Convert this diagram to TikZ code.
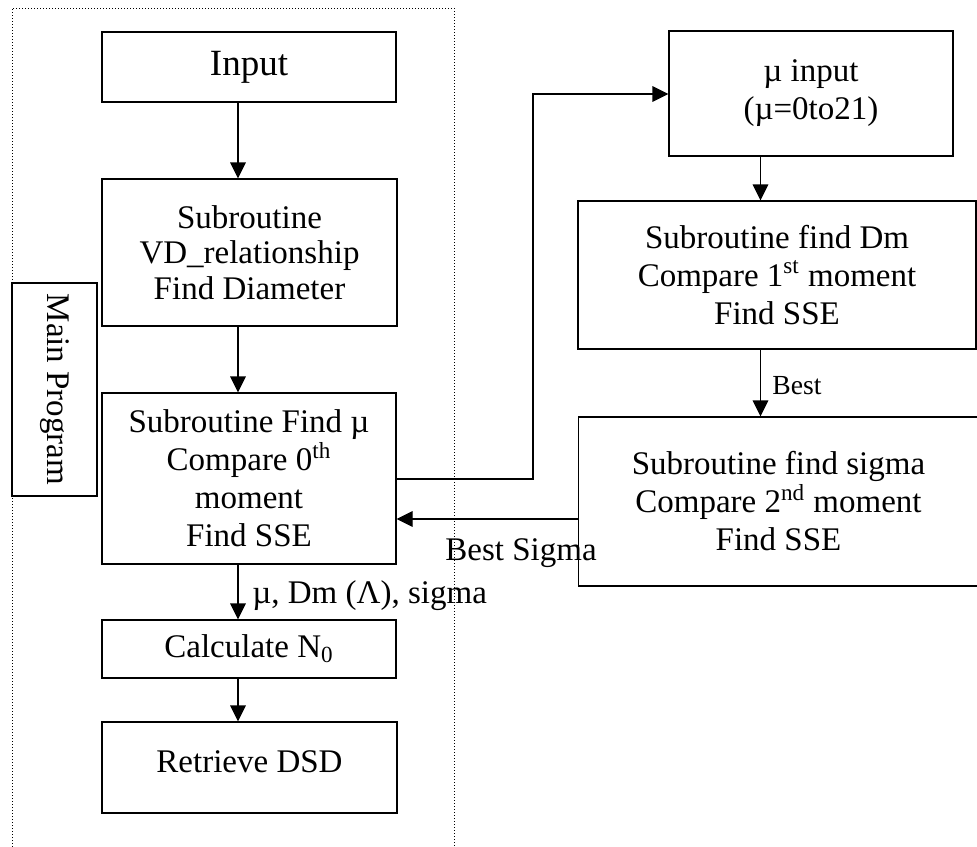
\documentclass[tikz,border=0pt]{standalone}
\usepackage{fontspec}
\setmainfont{Liberation Serif}
\usetikzlibrary{arrows.meta}
\begin{document}
\begin{tikzpicture}[x=0.5pt,y=-0.5pt,
  box/.style={draw, line width=0.65pt, fill=white, align=center, inner sep=0pt,
    font=\fontsize{16.5}{19}\selectfont},
  arr/.style={-{Triangle[length=8pt,width=7.8pt]}, line width=0.65pt},
  lbl/.style={inner sep=0pt, font=\fontsize{16.5}{19}\selectfont},
  frame/.style={densely dotted, line width=0.5pt}]
\useasboundingbox (0,0) rectangle (977,846);
% dotted frame of the main program
\draw[frame] (12,850) -- (12,8) -- (454,8) -- (454,850);
% left column
\node[box, minimum width=147pt, minimum height=35pt, font=\fontsize{18.5}{20}\selectfont] (input) at (249,67) {Input};
\node[box, minimum width=147.5pt, minimum height=73.5pt, font=\fontsize{16.5}{17.75}\selectfont] (vd) at (249.5,252.5) {Subroutine\\VD\_relationship\\Find Diameter};
\node[box, minimum width=147pt, minimum height=85.5pt] (findmu) at (249,478.5) {Subroutine Find µ\\Compare 0\textsuperscript{th}\\moment\\Find SSE};
\node[box, minimum width=147pt, minimum height=29pt] (calc) at (249,649) {Calculate N\textsubscript{0}};
\node[box, minimum width=147.5pt, minimum height=45.5pt] (retr) at (249.5,767.5) {\raisebox{5.5pt}{Retrieve DSD}};
\node[box, rotate=-90, minimum width=106.5pt, minimum height=42.5pt] (main) at (54.5,389.5) {Main Program};
% right column
\node[box, minimum width=142pt, minimum height=62.5pt] (muin) at (811,93.5) {µ input\\(µ=0to21)};
\node[box, minimum width=199pt, minimum height=74pt] (dm) at (777,275) {Subroutine find Dm\\Compare 1\textsuperscript{st} moment\\Find SSE};
\node[box, minimum width=200pt, minimum height=84.5pt] (sig) at (778.5,501.5) {Subroutine find sigma\\Compare 2\textsuperscript{nd} moment\\Find SSE};
% helper coordinates
\coordinate (colL) at (238,0);
\coordinate (colR) at (760.5,0);
\coordinate (fb1) at (533,479);
\coordinate (fb2) at (533,94);
\coordinate (bs) at (0,519);
% connectors
\draw[arr] (input.south -| colL) -- (vd.north -| colL);
\draw[arr] (vd.south -| colL) -- (findmu.north -| colL);
\draw[arr] (findmu.south -| colL) -- (calc.north -| colL);
\draw[arr] (calc.south -| colL) -- (retr.north -| colL);
\draw[arr] (findmu.east |- fb1) -- (fb1) -- (fb2) -- (muin.west |- fb2);
\draw[arr] (muin.south -| colR) -- (dm.north -| colR);
\draw[arr] (dm.south -| colR) -- (sig.north -| colR);
\draw[arr] (sig.west |- bs) -- (findmu.east |- bs);
% labels
\node[lbl, anchor=base west] (l1) at (252,603) {µ, Dm (Λ), sigma};
\node[lbl, anchor=base west, font=\fontsize{13.8}{15}\selectfont] (l2) at (772,394) {Best};
\node[lbl, anchor=base] (l3) at (521,560) {Best Sigma};
\end{tikzpicture}
\end{document}
